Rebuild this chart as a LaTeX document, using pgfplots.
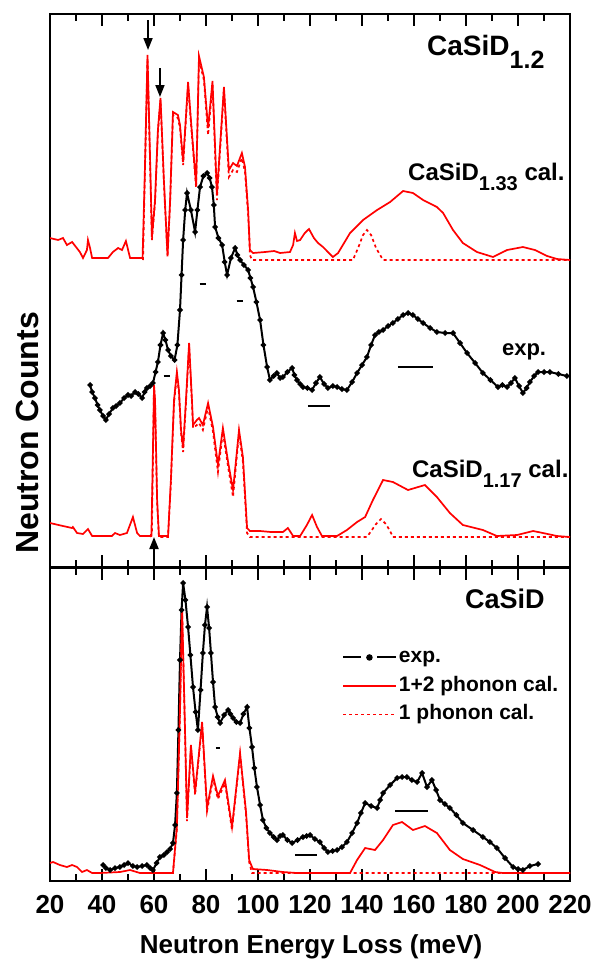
\documentclass[border=0pt]{standalone}
\usepackage{fontspec}
\setmainfont{Liberation Sans}
\usepackage{pgfplots}
\pgfplotsset{compat=1.18}
\usetikzlibrary{arrows.meta}

\newcommand{\fs}[1]{\fontsize{#1}{#1}\selectfont\bfseries}

\pgfplotsset{
  panel/.style={
    scale only axis, width=520pt, anchor=north west,
    xmin=20, xmax=220, y dir=reverse,
    axis line style={line width=2.5pt},
    tick style={black, line width=2pt},
    major tick length=12pt, minor tick length=7pt,
    tick align=inside,
    xtick={20,40,...,220}, minor x tick num=1,
    ytick=\empty,
    xticklabel style={font={\fs{26}}, yshift=-11pt},
    /pgf/number format/assume math mode=true,
  },
  cal/.style={red, line width=1.7pt},
  one/.style={red, line width=1.7pt, dash pattern=on 3pt off 3pt},
  expt/.style={black, line width=2pt, mark=*, mark size=1.6pt},
  res/.style={black, line width=2pt, forget plot},
  explegend/.style={legend image code/.code={
    \draw[black, line width=2pt] (0pt,0pt) -- (18pt,0pt);
    \fill[black] (26pt,0pt) circle (2.2pt);
    \draw[black, line width=2pt] (34pt,0pt) -- (53pt,0pt);}},
  callegend/.style={legend image code/.code={
    \draw[red, line width=1.7pt] (0pt,0pt) -- (53pt,0pt);}},
  onelegend/.style={legend image code/.code={
    \draw[red, line width=1.7pt, dash pattern=on 3pt off 3pt] (0pt,0pt) -- (53pt,0pt);}},
}

\begin{document}
\begin{tikzpicture}

% ---- upper panel: CaSiD1.2 ----
\begin{axis}[panel, at={(50pt,-14pt)}, height=553pt, ymin=14, ymax=567,
  xticklabels=\empty]
% CaSiD1.33 cal., 1+2 phonon
\addplot[cal] coordinates {
(20,238) (23.1,240) (25.0,238) (26.5,245) (28.5,242) (31.5,252) (32.7,258) (34.2,250)
(34.6,240) (35.4,248) (36.2,258) (39.2,258) (42.3,258) (44.2,252) (46.2,248) (47.7,250)
(49.2,241) (50.8,258) (55.6,258) (56.4,180) (57.5,55) (58.5,160) (59.2,237) (60.4,200)
(61.5,130) (62.5,98) (63.8,180) (65.2,255) (66.2,200) (67.3,112) (69.2,115) (70.0,125)
(71.2,162) (73.1,82) (74.2,120) (76.2,185) (77.3,56) (79.2,77) (80.8,128) (82.5,81)
(84.2,194) (86.9,87) (88.8,170) (90.4,163) (91.9,166) (93.8,153) (95.0,167) (96.2,210)
(96.9,250) (98.1,253) (102.7,252) (106.2,251) (108.5,253) (112.3,252) (113.5,245)
(114.2,233) (115.0,241) (116.2,240) (118.0,233) (119.6,229) (121.5,238) (123.1,243)
(125.0,247) (128.8,257) (130.8,253) (135.4,233) (140.4,220) (145.8,210) (150.8,202)
(155.8,191) (159.6,193) (163.5,200) (168.8,207) (171.2,213) (175.0,230) (178.8,243)
(184.2,252) (190.4,257) (195.8,250) (201.9,247) (206.5,250) (211.2,256) (215.0,259) (220,260)
};
% CaSiD1.33 cal., 1 phonon
\addplot[one] coordinates {
(55.8,260) (56.4,185) (57.5,58) (58.5,165) (59.2,240) (60.4,203) (61.5,133) (62.5,100)
(63.8,183) (65.2,257) (66.2,203) (67.3,115) (69.2,118) (70.0,128) (71.2,165) (73.1,85)
(74.2,123) (76.2,188) (77.3,60) (79.2,80) (80.8,135) (82.5,85) (84.2,200) (86.9,90)
(88.8,177) (90.4,170) (91.9,172) (93.8,158) (95.0,172) (96.2,215) (96.9,255) (97.7,260)
(136.5,260) (138.5,248) (140.4,235) (141.9,230) (143.5,235) (145.4,248) (148.1,260) (220,260)
};
% experiment
\addplot[expt] coordinates {
(35.4,385) (36.2,392) (37.3,398) (38.3,405) (39.2,410) (40.4,416) (41.5,420) (42.7,414)
(44.2,408) (45.4,406) (46.9,403) (48.5,398) (50.0,395) (51.2,396) (52.7,392) (54.0,394)
(55.4,398) (56.4,392) (57.3,388) (58.5,386) (59.6,383) (60.6,372) (61.5,362) (62.5,345)
(63.5,333) (64.4,340) (65.4,350) (66.5,356) (67.9,360) (69.0,345) (70.0,310) (70.6,275)
(71.2,240) (72.0,210) (72.7,193) (74.2,210) (75.8,232) (76.7,210) (77.7,187) (79.0,176)
(80.4,173) (81.4,178) (82.3,187) (83.0,205) (83.5,227) (84.8,238) (86.2,245) (87.2,262)
(88.1,275) (89.6,258) (91.2,248) (92.1,255) (93.1,260) (94.6,265) (96.2,270) (97.1,278)
(98.1,287) (99.4,302) (100.8,320) (102.1,345) (103.5,367) (104.6,380) (106.0,376)
(107.3,373) (108.5,378) (109.6,377) (111.3,372) (113.1,368) (114.0,375) (115.0,380)
(116.2,384) (117.3,387) (119.0,388) (120.8,390) (122.3,383) (123.8,377) (125.4,384)
(126.9,388) (128.8,386) (130.4,387) (132.3,389) (134.2,390) (136.2,382) (138.1,373)
(140.0,365) (141.9,357) (143.5,345) (145.0,335) (146.5,332) (148.1,330) (150.0,326)
(151.9,323) (153.8,319) (155.8,315) (157.7,313) (159.6,315) (161.5,319) (163.5,323)
(166.2,328) (168.8,332) (172.0,333) (175.0,333) (177.7,343) (180.4,353) (183.5,363)
(186.5,373) (189.4,380) (192.3,387) (194.0,385) (195.8,387) (197.3,383) (198.8,378)
(200.4,386) (201.9,393) (203.3,388) (204.6,382) (206.2,376) (207.7,372) (210.0,372)
(212.3,372) (215.5,374) (218.8,376)
};
% CaSiD1.17 cal., 1+2 phonon
\addplot[cal] coordinates {
(20,523) (25.0,526) (28.5,528) (28.8,527) (30.4,533) (32.7,534) (34.6,529) (36.2,536)
(43.8,536) (45.0,533) (46.9,535) (49.6,533) (51.9,517) (53.5,533) (54.6,536) (59.0,536)
(59.8,420) (60.0,385) (60.4,400) (61.2,500) (61.9,536) (65.4,536) (66.5,480) (67.7,400)
(68.8,372) (69.6,390) (70.4,430) (71.2,448) (72.3,400) (73.5,343) (74.6,400) (75.0,425)
(76.5,420) (77.3,418) (78.8,425) (80.8,403) (82.7,427) (84.6,465) (86.5,428) (88.5,462)
(90.4,490) (92.7,430) (94.2,457) (95.8,528) (96.9,531) (100.8,531) (105.0,532)
(109.6,532) (111.5,528) (113.5,536) (116.2,536) (118.8,525) (120.8,515) (122.7,527)
(124.6,536) (130.4,536) (134.2,530) (138.1,522) (141.2,517) (144.2,500) (148.1,480)
(151.9,482) (157.7,490) (164.2,485) (168.8,497) (173.8,513) (178.8,525) (186.5,530)
(191.9,536) (199.6,535) (205.8,531) (209.6,533) (215.0,536) (220,537)
};
% CaSiD1.17 cal., 1 phonon
\addplot[one] coordinates {
(58.5,537) (59.2,532) (59.8,423) (60.0,388) (60.4,403) (61.2,503) (61.9,537) (65.4,537)
(66.5,483) (67.7,403) (68.8,375) (69.6,393) (70.4,433) (71.2,452) (72.3,403) (73.5,346)
(74.6,403) (75.0,428) (76.5,425) (77.3,423) (78.8,430) (80.8,407) (82.7,432) (84.6,472)
(86.5,432) (88.5,467) (90.4,497) (92.7,433) (94.2,462) (95.8,533) (96.9,537) (141.9,537)
(143.8,530) (145.4,524) (147.3,519) (149.2,524) (150.8,531) (151.9,537) (220,537)
};
% resolution bars
\addplot[res] coordinates {(77.5,284) (80.1,284)};
\addplot[res] coordinates {(91.8,301) (94.4,301)};
\addplot[res] coordinates {(63.7,376) (66.3,376)};
\addplot[res] coordinates {(119.2,406) (127.7,406)};
\addplot[res] coordinates {(153.8,367) (167.3,367)};
% arrows and labels
\draw[-{Triangle[length=12pt,width=9pt]}, line width=1.8pt] (axis cs:57.7,20) -- (axis cs:57.7,50);
\draw[-{Triangle[length=12pt,width=9pt]}, line width=1.8pt] (axis cs:62.3,68) -- (axis cs:62.3,97);
\draw[-{Triangle[length=12pt,width=9pt]}, line width=1.8pt] (axis cs:60.0,563) -- (axis cs:60.0,537);
\node[anchor=base west, inner sep=0pt, font={\fs{28}}] at (axis cs:165.0,55)
  {CaSiD\raisebox{-13pt}{\fs{25}1.2}};
\node[anchor=base west, inner sep=0pt, font={\fs{24}}] at (axis cs:157.7,180)
  {CaSiD\raisebox{-10pt}{\fs{20}1.33} cal.};
\node[anchor=base west, inner sep=0pt, font={\fs{22}}] at (axis cs:193.8,355) {exp.};
\node[anchor=base west, inner sep=0pt, font={\fs{24}}] at (axis cs:159.2,477)
  {CaSiD\raisebox{-10pt}{\fs{20}1.17} cal.};
\end{axis}

% ---- lower panel: CaSiD ----
\begin{axis}[panel, at={(50pt,-568pt)}, height=313pt, ymin=568, ymax=881,
  legend style={at={(0.562,0.75)}, anchor=north west, draw=none, fill=none,
    inner sep=0pt, row sep=6.5pt, font={\fs{21}},
    nodes={inner sep=1.5pt, text height=15pt, text depth=4pt}},
  legend cell align=left]
\addplot[expt, explegend] coordinates {
(40.4,865) (41.5,868) (43.1,870) (45.0,868) (46.9,867) (48.5,865) (50.0,863) (51.9,866)
(53.5,867) (55.4,866) (57.3,865) (58.5,868) (59.6,870) (61.0,863) (62.3,857) (63.8,855)
(65.0,852) (66.2,849) (67.3,843) (68.1,825) (68.8,793) (69.4,730) (70.0,660) (70.6,610)
(71.2,583) (72.1,600) (73.1,627) (74.0,655) (75.0,687) (76.0,712) (76.9,730) (77.9,690)
(78.8,653) (79.6,625) (80.4,607) (81.2,628) (81.9,653) (82.7,682) (83.5,707) (84.5,717)
(85.4,723) (87.0,715) (88.5,710) (89.4,714) (90.4,718) (91.7,722) (93.1,723) (94.4,714)
(95.8,707) (96.7,728) (97.7,747) (98.6,768) (99.6,787) (100.8,805) (101.9,820)
(103.2,828) (104.6,833) (106.0,837) (107.3,840) (108.5,836) (109.6,835) (111.3,840)
(113.1,843) (115.2,840) (117.3,837) (118.7,836) (120.0,835) (121.9,839) (123.8,842)
(125.4,848) (126.9,852) (128.7,851) (130.4,850) (132.3,847) (134.2,842) (136.2,833)
(138.1,823) (139.6,813) (141.2,803) (143.5,806) (145.8,808) (147.0,800) (148.1,793)
(150.8,785) (153.5,778) (155.4,777) (157.3,777) (159.2,780) (161.2,782) (163.1,773)
(165.0,787) (166.9,780) (168.5,790) (170.0,800) (171.9,804) (173.8,808) (176.3,815)
(178.8,823) (182.7,830) (186.5,837) (189.2,842) (191.9,848) (195.0,858) (198.1,867)
(200.0,869) (201.9,870) (204.6,866) (207.7,864)
};
\addlegendentry{exp.}
\addplot[cal, callegend] coordinates {
(20,863) (21.2,862) (23.8,865) (26.5,867) (28.5,865) (30.4,867) (32.3,872) (34.2,870)
(36.2,873) (39.2,873) (46.9,872) (50.8,870) (54.6,873) (60.0,873) (67.3,873) (68.8,827)
(70.0,710) (70.8,608) (71.9,727) (72.7,818) (74.2,745) (75.8,792) (78.5,722) (80.4,808)
(82.7,776) (84.6,796) (87.3,780) (90.0,827) (93.1,753) (95.4,812) (96.6,860) (97.7,867)
(98.1,869) (103.5,870) (109.6,872) (115.0,873) (135.4,873) (138.1,860) (141.2,848)
(145.0,850) (148.1,840) (151.9,825) (155.4,822) (159.6,830) (164.2,826) (168.8,833)
(173.8,850) (178.8,859) (185.4,865) (191.2,872) (194.2,873) (220,873)
};
\addlegendentry{1+2 phonon cal.}
\addplot[one, onelegend] coordinates {
(60.0,873) (67.3,873) (68.8,829) (70.0,712) (70.8,610) (71.9,729) (72.7,821) (74.2,747)
(75.8,795) (78.5,724) (80.4,811) (82.7,779) (84.6,799) (87.3,783) (90.0,830) (93.1,755)
(95.4,815) (96.6,862) (97.7,873) (220,873)
};
\addlegendentry{1 phonon cal.}
\addplot[res] coordinates {(83.8,748) (85.4,748)};
\addplot[res] coordinates {(114.2,855) (122.7,855)};
\addplot[res] coordinates {(152.7,811) (165.4,811)};
\node[anchor=base west, inner sep=0pt, font={\fs{27}}] at (axis cs:179.6,608) {CaSiD};
\end{axis}

\node[rotate=90, font={\fs{32}}] at (27pt,-433pt) {Neutron Counts};
\node[font={\fs{26}}] at (311pt,-947pt) {Neutron Energy Loss (meV)};

\pgfresetboundingbox
\path[use as bounding box] (0pt,0pt) rectangle (593pt,-961pt);
\end{tikzpicture}
\end{document}
